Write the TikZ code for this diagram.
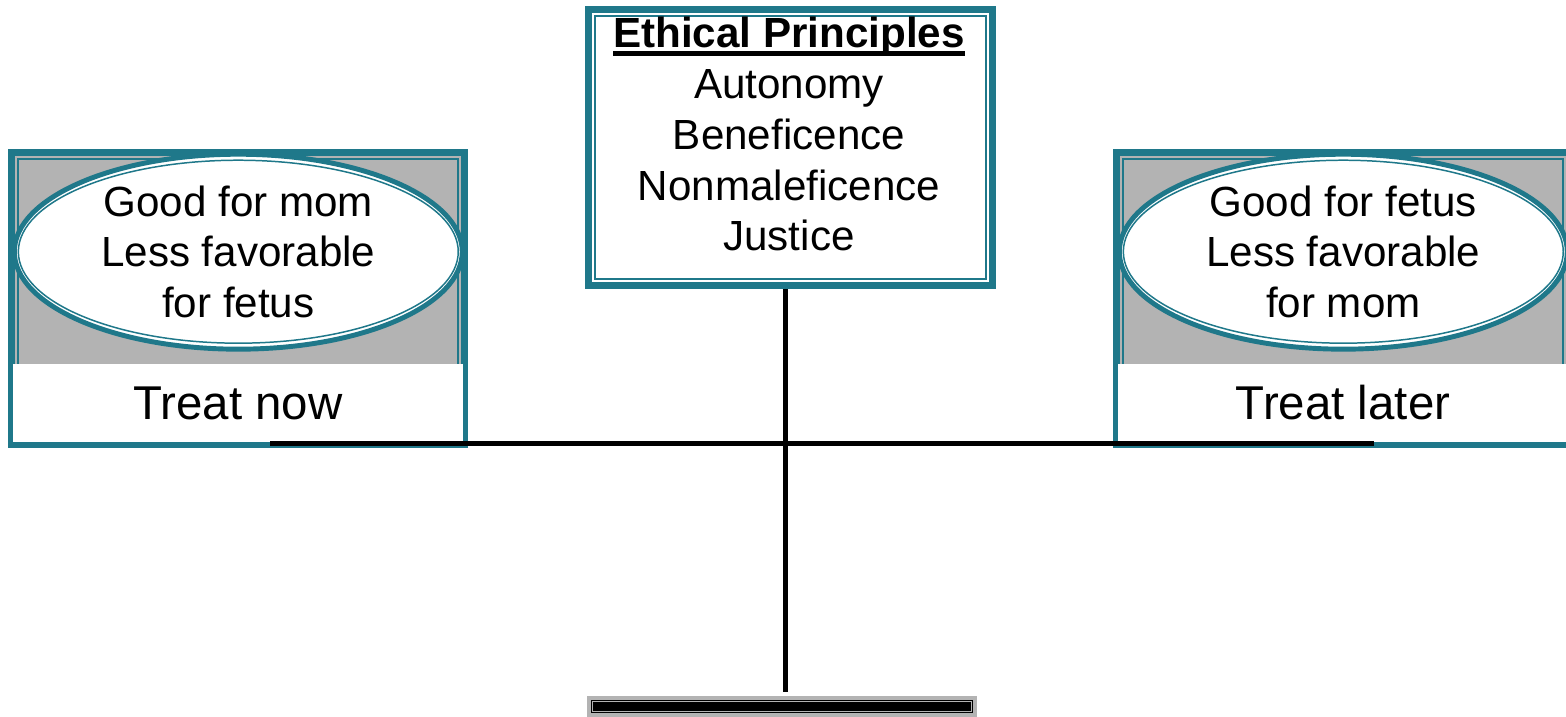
\documentclass[tikz,border=0pt]{standalone}
\usepackage{fontspec}
\setmainfont{Liberation Sans}
\usetikzlibrary{shapes.geometric}

\definecolor{frameteal}{RGB}{31,120,138}
\definecolor{panelgray}{RGB}{179,179,179}
% heavy underline for the heading
\newcommand{\ulthick}[1]{\setbox0\hbox{#1}\rlap{\rule[-5.1pt]{\wd0}{3pt}}\box0}

\begin{document}
\begin{tikzpicture}[x=0.02cm, y=-0.02cm,
    frame/.style={draw=frameteal, line width=3.7pt, inner sep=0pt},
    innerline/.style={draw=frameteal, line width=1pt},
    option/.style={ellipse, draw=frameteal, fill=white, line width=2.8pt, inner sep=0pt,
        minimum width=8.96cm, minimum height=3.9cm, align=center,
        font=\fontsize{24pt}{28.8pt}\selectfont},
    choice/.style={fill=white, inner sep=0pt, minimum width=9cm, minimum height=1.56cm,
        font=\fontsize{27pt}{32pt}\selectfont},
    post/.style={line width=3pt, black},
    beam/.style={line width=2.5pt, black},
  ]
  \useasboundingbox (0,0) rectangle (1566,717);

  % Hộp nguyên tắc ở trên
  \node[frame, fill=white, minimum width=8.09cm, minimum height=5.53cm] (ethics) at (790.5,147.5) {};
  \draw[innerline] ([shift={(10,10)}]ethics.north west) rectangle ([shift={(-10,-10)}]ethics.south east);
  \node[align=center, inner sep=0pt, font=\fontsize{24pt}{29pt}\selectfont] (principles) at (789,134)
    {\ulthick{\bfseries Ethical Principles}\\ Autonomy\\ Beneficence\\ Nonmaleficence\\ Justice};

  % Đế cân
  \node[fill=black, draw=panelgray, line width=2.3pt, inner sep=0pt,
    minimum width=7.72cm, minimum height=0.34cm] (base) at (782,706.5) {};
  \draw[panelgray, line width=0.6pt] ([shift={(5.5,5.5)}]base.north west) rectangle ([shift={(-5.5,-5.5)}]base.south east);

  % Đĩa trái
  \node[frame, fill=panelgray, minimum width=9.07cm, minimum height=5.86cm] (nowbox) at (238,298.75) {};
  \draw[innerline] ([shift={(10,10)}]nowbox.north west) rectangle ([shift={(-10,-10)}]nowbox.south east);
  \node[choice] (now) at (238,403) {Treat now};
  \node[option] (nowpro) at (238.3,251.7) {Good for mom\\ Less favorable\\ for fetus};
  \draw[innerline, line width=0.85pt] (nowpro.center) ellipse [x radius=4.4cm, y radius=1.83cm];

  % Đĩa phải
  \node[frame, fill=panelgray, minimum width=9.07cm, minimum height=5.86cm] (laterbox) at (1343,298.75) {};
  \draw[innerline] ([shift={(10,10)}]laterbox.north west) rectangle ([shift={(-10,-10)}]laterbox.south east);
  \node[choice] (later) at (1343,403) {Treat later};
  \node[option] (laterpro) at (1343.3,251.7) {Good for fetus\\ Less favorable\\ for mom};
  \draw[innerline, line width=0.85pt] (laterpro.center) ellipse [x radius=4.4cm, y radius=1.83cm];

  % Trụ và đòn cân
  \coordinate (pivot) at (785.5,443.5);
  \coordinate (beamL) at (270,443.5);
  \coordinate (beamR) at (1374,443.5);
  \draw[post, shorten >=2.3pt] (ethics.south -| pivot) -- (base.north -| pivot);
  \draw[beam] (beamL) -- (beamR);
\end{tikzpicture}
\end{document}
